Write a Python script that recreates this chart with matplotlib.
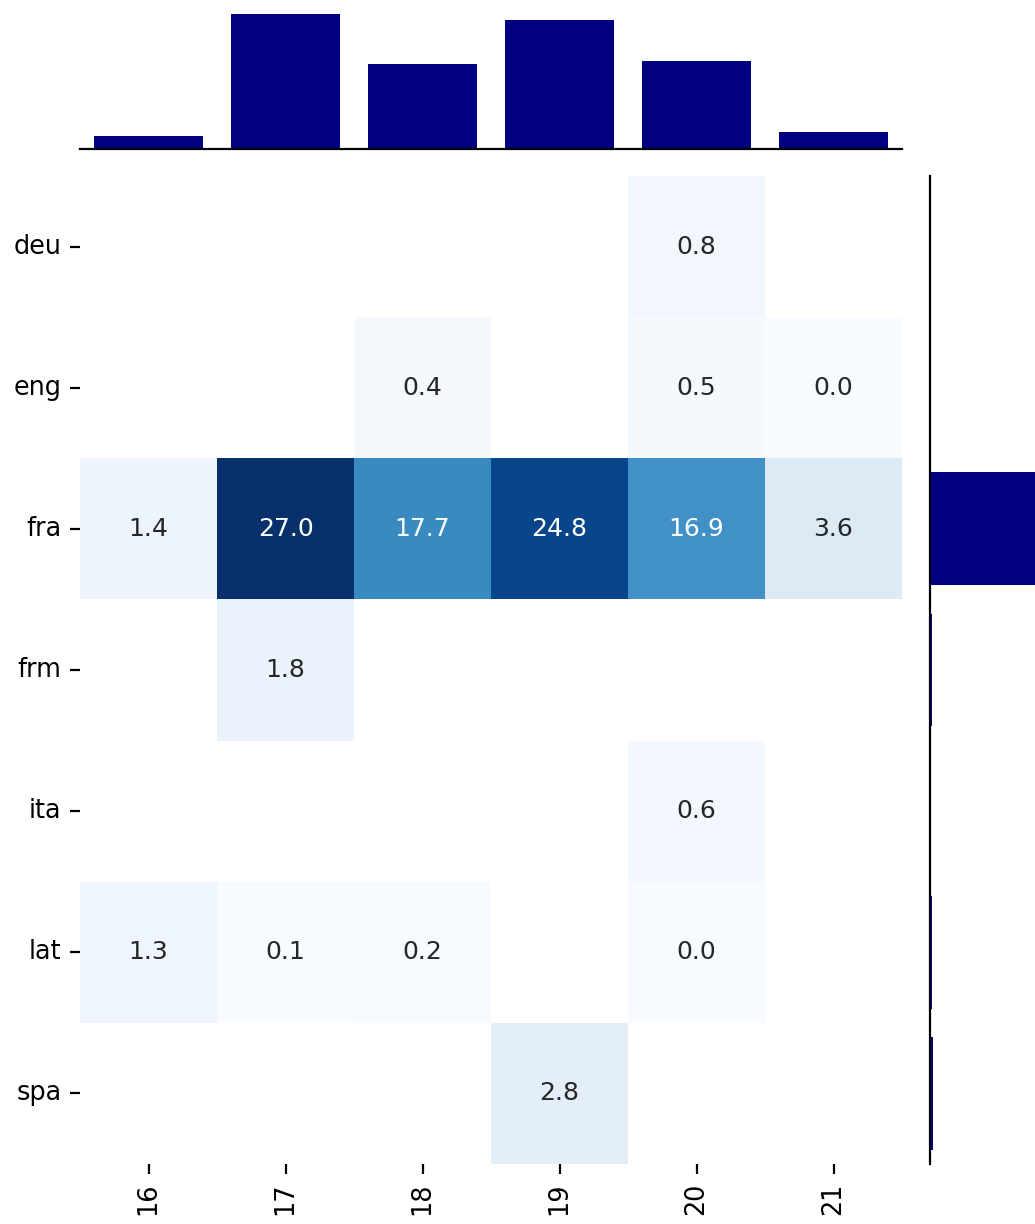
import numpy as np
import matplotlib
matplotlib.use("Agg")
import matplotlib.pyplot as plt
import seaborn as sns

langs = ["deu", "eng", "fra", "frm", "ita", "lat", "spa"]
centuries = ["16", "17", "18", "19", "20", "21"]
nan = np.nan
deu = [nan, nan, nan, nan, 0.8, nan]
eng = [nan, nan, 0.4, nan, 0.5, 0.02]
fra = [1.4, 27.0, 17.7, 24.8, 16.9, 3.6]
frm = [nan, 1.8, nan, nan, nan, nan]
ita = [nan, nan, nan, nan, 0.6, nan]
lat = [1.3, 0.1, 0.2, nan, 0.01, nan]
spa = [nan, nan, nan, 2.8, nan, nan]

data = np.array([deu, eng, fra, frm, ita, lat, spa])
col_sums = np.nansum(data, axis=0)
row_sums = np.nansum(data, axis=1)

W, H = 1035, 1224
dpi = 200
fig = plt.figure(figsize=(W / dpi, H / dpi), dpi=dpi)

ax = fig.add_axes([80 / W, 1 - 1164 / H, (902 - 80) / W, (1164 - 176) / H])
ax_top = fig.add_axes([80 / W, 1 - 149 / H, (902 - 80) / W, (149 - 14) / H])
ax_right = fig.add_axes([930 / W, 1 - 1164 / H, (W - 930) / W, (1164 - 176) / H])

sns.heatmap(data, ax=ax, cmap="Blues", annot=True, fmt=".1f", cbar=False,
            xticklabels=centuries, yticklabels=langs, annot_kws={"fontsize": 9})
ax.set_yticklabels(langs, rotation=0, fontsize=9.2)
ax.set_xticklabels(centuries, rotation=90, fontsize=9.2)
ax.tick_params(length=3.5, pad=3.2)

x = np.arange(len(centuries)) + 0.5
ax_top.bar(x, col_sums, width=0.8, color="navy")
ax_top.set_xlim(0, len(centuries))
ax_top.set_ylim(0, col_sums.max())
ax_top.set_xticks([])
ax_top.set_yticks([])
for s in ["top", "left", "right"]:
    ax_top.spines[s].set_visible(False)

y = np.arange(len(langs)) + 0.5
ax_right.barh(y, row_sums, height=0.8, color="navy")
ax_right.set_ylim(len(langs), 0)
ax_right.set_xlim(0, row_sums.max())
ax_right.set_xticks([])
ax_right.set_yticks([])
for s in ["top", "bottom", "right"]:
    ax_right.spines[s].set_visible(False)

fig.savefig("out.png", dpi=dpi)
